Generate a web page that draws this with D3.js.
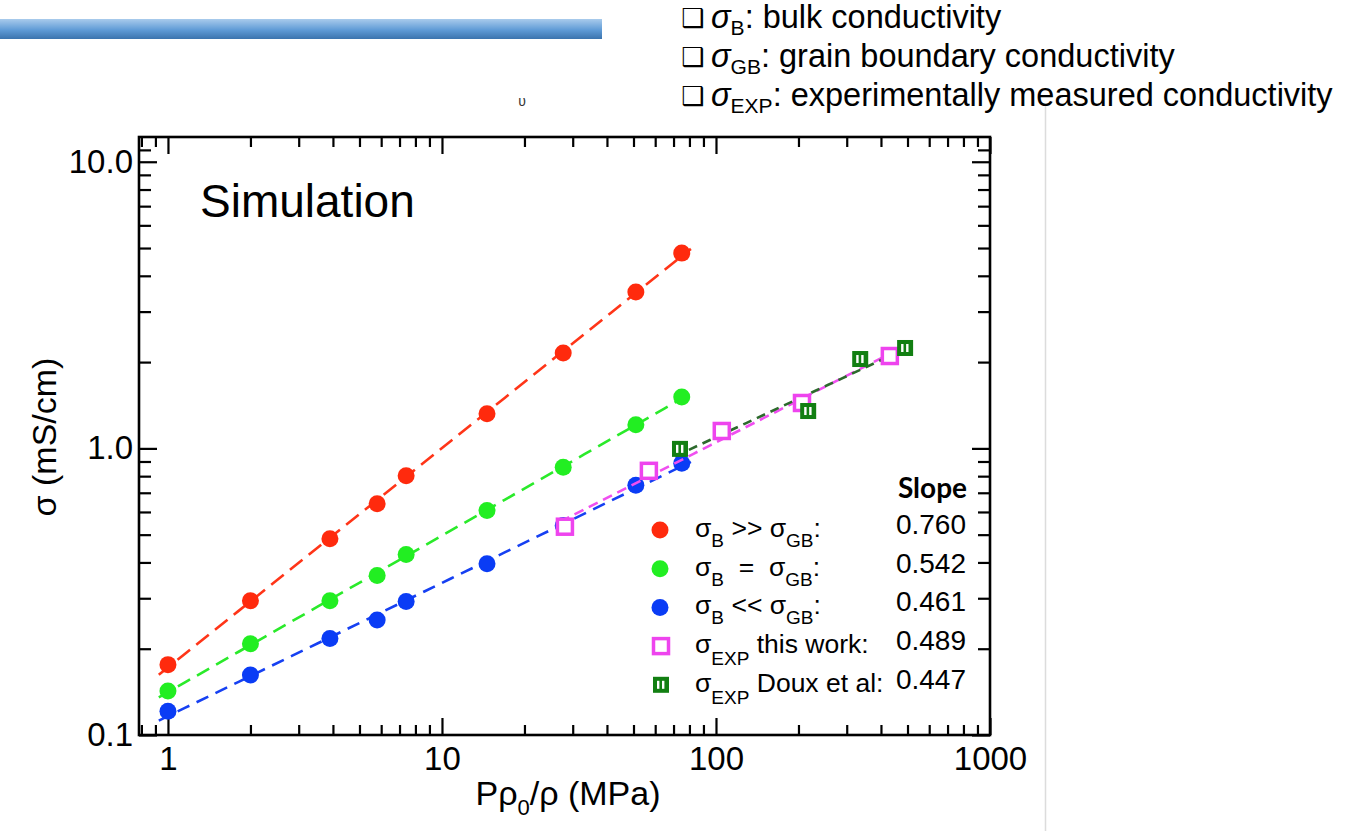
<!DOCTYPE html>
<html>
<head>
<meta charset="utf-8">
<script src="https://cdn.jsdelivr.net/npm/d3@7"></script>
<style>
  body { margin: 0; background: #fff; }
  text { font-family: "Liberation Sans", Arial, sans-serif; fill: #000; }
</style>
</head>
<body>
<div id="chart"></div>
<script>
// Data
var pressure = [1, 2, 3.9, 5.8, 7.4, 14.6, 27.7, 51, 75];
var sigmaBulkHigh = [0.176, 0.294, 0.484, 0.641, 0.802, 1.32, 2.15, 3.51, 4.80];   // sB >> sGB
var sigmaEqual = [0.1425, 0.208, 0.294, 0.360, 0.426, 0.607, 0.859, 1.21, 1.51];    // sB = sGB
var sigmaBulkLow = [0.121, 0.162, 0.217, 0.252, 0.292, 0.396, 0.538, 0.743, 0.887]; // sB << sGB

var expPressure = [28.1, 56.9, 105, 206, 431];
var expSigma = [0.533, 0.835, 1.15, 1.44, 2.10];

var douxPressure = [73.9, 217, 336, 490];
var douxSigma = [0.996, 1.35, 2.05, 2.24];

var slopes = ["0.760", "0.542", "0.461", "0.489", "0.447"];

var xMajorTicks = [1, 10, 100, 1000];
var xTickLabels = ["1", "10", "100", "1000"];
var yMajorTicks = [0.1, 1, 10];
var yTickLabels = ["0.1", "1.0", "10.0"];

var svgWidth = 1355;
var svgHeight = 831;

var margin = {
    top: 137,
    bottom: 96,
    right: 365,
    left: 139
};

var width = svgWidth - margin.left - margin.right;
var height = svgHeight - margin.top - margin.bottom;

var svg = d3.select("#chart")
    .append("svg")
    .attr("width", svgWidth)
    .attr("height", svgHeight)
    .style("background", "#fff");

// header decoration
var defs = svg.append("defs");
var grad = defs.append("linearGradient")
    .attr("id", "barGrad")
    .attr("x1", 0).attr("y1", 0).attr("x2", 0).attr("y2", 1);
grad.append("stop").attr("offset", "0%").attr("stop-color", "#a9cbec");
grad.append("stop").attr("offset", "55%").attr("stop-color", "#5f9bd6");
grad.append("stop").attr("offset", "100%").attr("stop-color", "#3b73ad");

svg.append("rect")
    .attr("x", 0).attr("y", 19)
    .attr("width", 602).attr("height", 20)
    .attr("fill", "url(#barGrad)");

svg.append("text")
    .attr("x", 522).attr("y", 106)
    .attr("text-anchor", "middle")
    .style("font-size", "14px")
    .style("fill", "#333")
    .text("\u03c5");

svg.append("line")
    .attr("x1", 1045.5).attr("x2", 1045.5)
    .attr("y1", 106).attr("y2", svgHeight)
    .attr("stroke", "#dcdcdc")
    .attr("stroke-width", 1.5);

// definitions list, top right
var defRows = [
    { sub: "B", rest: ": bulk conductivity" },
    { sub: "GB", rest: ": grain boundary conductivity" },
    { sub: "EXP", rest: ": experimentally measured conductivity" }
];
defRows.forEach(function(d, i) {
    var y = 28 + i * 39;
    svg.append("text")
        .attr("x", 681).attr("y", y - 1)
        .style("font-family", "DejaVu Sans")
        .style("font-size", "26px")
        .text("\u2751");
    var t = svg.append("text")
        .attr("x", 711).attr("y", y)
        .style("font-size", "32.5px");
    t.append("tspan").style("font-style", "italic").text("\u03c3");
    t.append("tspan").attr("dy", 7).style("font-size", "21px").text(d.sub);
    t.append("tspan").attr("dy", -7).text(d.rest);
});

var chartGroup = svg.append("g")
    .attr("transform", `translate(${margin.left}, ${margin.top})`);

var xLogScale = d3.scaleLog()
    .domain([0.784, 1000])
    .range([0, width]);

var yLogScale = d3.scaleLog()
    .domain([0.1, 12.2])
    .range([height, 0]);

// minor tick values
var xMinor = [];
[0.1, 1, 10, 100].forEach(function(dec) {
    for (var k = 2; k <= 9; k++) {
        var v = dec * k;
        if (v > 0.79 && v < 1000) xMinor.push(v);
    }
});
var yMinor = [];
[0.1, 1, 10].forEach(function(dec) {
    for (var k = 2; k <= 9; k++) {
        var v = dec * k;
        if (v > 0.1 && v < 12.1) yMinor.push(v);
    }
});
yMinor.push(11);

function styleAxis(g) {
    g.select(".domain").remove();
    g.selectAll(".tick line").attr("stroke", "#000").attr("stroke-width", 2.2);
    g.selectAll(".tick text")
        .style("font-size", "33px")
        .style("font-family", "'Liberation Sans', Arial, sans-serif")
        .attr("fill", "#000");
}

// bottom
chartGroup.append("g")
    .attr("transform", `translate(0, ${height})`)
    .call(d3.axisBottom(xLogScale).tickValues(xMajorTicks)
        .tickSize(-17).tickPadding(12)
        .tickFormat(function(d, i) { return xTickLabels[i]; }))
    .call(styleAxis);
chartGroup.append("g")
    .attr("transform", `translate(0, ${height})`)
    .call(d3.axisBottom(xLogScale).tickValues(xMinor).tickSize(-10).tickFormat(""))
    .call(styleAxis);

// top
chartGroup.append("g")
    .call(d3.axisTop(xLogScale).tickValues(xMajorTicks).tickSize(-17).tickFormat(""))
    .call(styleAxis);
chartGroup.append("g")
    .call(d3.axisTop(xLogScale).tickValues(xMinor).tickSize(-10).tickFormat(""))
    .call(styleAxis);

// left
chartGroup.append("g")
    .call(d3.axisLeft(yLogScale).tickValues(yMajorTicks)
        .tickSize(-18).tickPadding(6)
        .tickFormat(function(d, i) { return yTickLabels[i]; }))
    .call(styleAxis);
chartGroup.append("g")
    .call(d3.axisLeft(yLogScale).tickValues(yMinor).tickSize(-12).tickFormat(""))
    .call(styleAxis);

// right
chartGroup.append("g")
    .attr("transform", `translate(${width}, 0)`)
    .call(d3.axisRight(yLogScale).tickValues(yMajorTicks).tickSize(-18).tickFormat(""))
    .call(styleAxis);
chartGroup.append("g")
    .attr("transform", `translate(${width}, 0)`)
    .call(d3.axisRight(yLogScale).tickValues(yMinor).tickSize(-12).tickFormat(""))
    .call(styleAxis);

// frame
chartGroup.append("rect")
    .attr("x", 0).attr("y", 0)
    .attr("width", width).attr("height", height)
    .attr("fill", "none")
    .attr("stroke", "#000")
    .attr("stroke-width", 2.6);

chartGroup.append("text")
    .attr("x", 61).attr("y", 80)
    .style("font-size", "46px")
    .text("Simulation");

// power-law fit in log-log space
function powerFit(xs, ys) {
    var lx = xs.map(Math.log10), ly = ys.map(Math.log10);
    var mx = d3.mean(lx), my = d3.mean(ly);
    var num = d3.sum(lx, function(v, i) { return (v - mx) * (ly[i] - my); });
    var den = d3.sum(lx, function(v) { return (v - mx) * (v - mx); });
    var b = num / den, a = my - b * mx;
    return function(x) { return Math.pow(10, a + b * Math.log10(x)); };
}

var line = d3.line()
    .x(function(d) { return xLogScale(d[0]); })
    .y(function(d) { return yLogScale(d[1]); });

function drawFit(xs, ys, color, dash, ext) {
    var f = powerFit(xs, ys);
    var x0 = d3.min(xs) / ext, x1 = d3.max(xs) * ext;
    var pts = d3.range(0, 21).map(function(i) {
        var x = Math.pow(10, Math.log10(x0) + (Math.log10(x1) - Math.log10(x0)) * i / 20);
        return [x, f(x)];
    });
    chartGroup.append("path")
        .datum(pts)
        .attr("d", line)
        .attr("fill", "none")
        .attr("stroke", color)
        .attr("stroke-width", 2.6)
        .attr("stroke-dasharray", dash);
}

function drawCircles(g, xs, ys, color) {
    g.selectAll(null)
        .data(xs.map(function(x, i) { return [x, ys[i]]; }))
        .enter()
        .append("circle")
        .attr("cx", function(d) { return xLogScale(d[0]); })
        .attr("cy", function(d) { return yLogScale(d[1]); })
        .attr("r", 8.5)
        .attr("fill", color);
}

function openSquare(g, cx, cy) {
    g.append("rect")
        .attr("x", cx - 7.5).attr("y", cy - 7.5)
        .attr("width", 15).attr("height", 15)
        .attr("fill", "#fff")
        .attr("stroke", "#ee44ee")
        .attr("stroke-width", 3.5);
}

function barSquare(g, cx, cy) {
    g.append("rect")
        .attr("x", cx - 8).attr("y", cy - 8)
        .attr("width", 16).attr("height", 16)
        .attr("fill", "#127f12");
    [-4, 1].forEach(function(dx) {
        g.append("rect")
            .attr("x", cx + dx).attr("y", cy - 4)
            .attr("width", 2.4).attr("height", 8)
            .attr("fill", "#fff");
    });
}

var colors = { red: "#ff2a0d", green: "#22ee22", blue: "#0a3cf5", pink: "#ee44ee", dark: "#127f12" };

drawFit(pressure, sigmaBulkHigh, "#ff3518", "16,8", 1.08);
drawFit(pressure, sigmaEqual, "#2aea2a", "14,8", 1.08);
drawFit(pressure, sigmaBulkLow, "#1640f2", "13,8", 1.08);
drawCircles(chartGroup, pressure, sigmaBulkHigh, colors.red);
drawCircles(chartGroup, pressure, sigmaEqual, colors.green);
drawCircles(chartGroup, pressure, sigmaBulkLow, colors.blue);

drawFit(expPressure, expSigma, "#f04ff0", "10,6", 1.04);
drawFit(douxPressure, douxSigma, "#2c6a2c", "9,6", 1.04);

expPressure.forEach(function(p, i) {
    openSquare(chartGroup, xLogScale(p), yLogScale(expSigma[i]));
});
douxPressure.forEach(function(p, i) {
    barSquare(chartGroup, xLogScale(p), yLogScale(douxSigma[i]));
});

// legend
var legend = svg.append("g");
legend.append("text")
    .attr("x", 967).attr("y", 498)
    .attr("text-anchor", "end")
    .style("font-family", "Lato, 'Open Sans', sans-serif")
    .style("font-weight", "bold")
    .style("font-size", "28px")
    .text("Slope");

var legendRows = [
    { parts: [["\u03c3"], ["B", 1], ["\u00a0>>\u00a0\u03c3"], ["GB", 1], [":"]] },
    { parts: [["\u03c3"], ["B", 1], ["\u00a0\u00a0=\u00a0\u00a0\u03c3"], ["GB", 1], [":"]] },
    { parts: [["\u03c3"], ["B", 1], ["\u00a0<<\u00a0\u03c3"], ["GB", 1], [":"]] },
    { parts: [["\u03c3"], ["EXP", 1], ["\u00a0this work:"]] },
    { parts: [["\u03c3"], ["EXP", 1], ["\u00a0Doux et al:"]] }
];

legendRows.forEach(function(row, i) {
    var cy = 530 + i * 38.7;
    if (i === 0) legend.append("circle").attr("cx", 660).attr("cy", cy).attr("r", 8.5).attr("fill", colors.red);
    if (i === 1) legend.append("circle").attr("cx", 660).attr("cy", cy).attr("r", 8.5).attr("fill", colors.green);
    if (i === 2) legend.append("circle").attr("cx", 660).attr("cy", cy).attr("r", 8.5).attr("fill", colors.blue);
    if (i === 3) openSquare(legend, 661, cy);
    if (i === 4) barSquare(legend, 661, cy);

    var t = legend.append("text")
        .attr("x", 695).attr("y", cy + 7)
        .style("font-size", "26.5px");
    var down = false;
    row.parts.forEach(function(p) {
        var ts = t.append("tspan").text(p[0]);
        if (p[1]) {
            ts.attr("dy", i < 3 ? 10 : 12).style("font-size", "19px");
            down = true;
        } else if (down) {
            ts.attr("dy", i < 3 ? -10 : -12);
            down = false;
        }
    });

    legend.append("text")
        .attr("x", 966).attr("y", cy + 4)
        .attr("text-anchor", "end")
        .style("font-size", "28px")
        .text(slopes[i]);
});

// axis titles
var xt = svg.append("text")
    .attr("x", 568).attr("y", 805)
    .attr("text-anchor", "middle")
    .style("font-size", "34px");
xt.append("tspan").text("P\u03c1");
xt.append("tspan").attr("dy", 10).style("font-size", "22px").text("0");
xt.append("tspan").attr("dy", -10).text("/\u03c1 (MPa)");

svg.append("text")
    .attr("transform", "translate(56, 437) rotate(-90)")
    .attr("text-anchor", "middle")
    .style("font-size", "34px")
    .text("\u03c3 (mS/cm)");
</script>
</body>
</html>
